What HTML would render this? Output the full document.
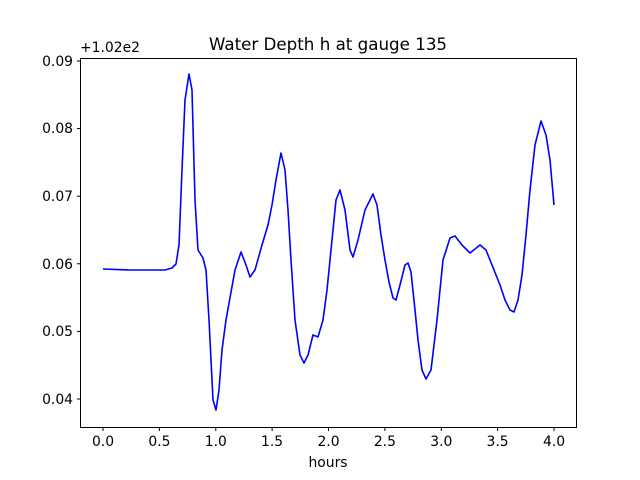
<!DOCTYPE html>
<html><head><meta charset="utf-8"><style>body{margin:0;background:#fff}svg{display:block}text{font-family:"DejaVu Sans","Liberation Sans",sans-serif;font-size:13.9px;fill:#000}</style></head>
<body>
<svg width="640" height="480" xmlns="http://www.w3.org/2000/svg">
<rect width="640" height="480" fill="#fff"/>
<text x="328" y="50" text-anchor="middle" style="font-size:16.7px">Water Depth h at gauge 135</text>
<text x="80" y="52">+1.02e2</text>
<rect x="80.5" y="58.5" width="496" height="369" fill="none" stroke="#000" stroke-width="1"/>
<g stroke="#000" stroke-width="1">
<line x1="103" y1="428" x2="103" y2="431"/><line x1="159.4" y1="428" x2="159.4" y2="431"/><line x1="215.8" y1="428" x2="215.8" y2="431"/><line x1="272.1" y1="428" x2="272.1" y2="431"/><line x1="328.5" y1="428" x2="328.5" y2="431"/><line x1="384.9" y1="428" x2="384.9" y2="431"/><line x1="441.3" y1="428" x2="441.3" y2="431"/><line x1="497.6" y1="428" x2="497.6" y2="431"/><line x1="554" y1="428" x2="554" y2="431"/>
<line x1="77" y1="399" x2="80" y2="399"/><line x1="77" y1="331.4" x2="80" y2="331.4"/><line x1="77" y1="263.8" x2="80" y2="263.8"/><line x1="77" y1="196.2" x2="80" y2="196.2"/><line x1="77" y1="128.6" x2="80" y2="128.6"/><line x1="77" y1="61" x2="80" y2="61"/>
</g>
<g text-anchor="middle">
<text x="103" y="446">0.0</text><text x="159.4" y="446">0.5</text><text x="215.8" y="446">1.0</text><text x="272.1" y="446">1.5</text><text x="328.5" y="446">2.0</text><text x="384.9" y="446">2.5</text><text x="441.3" y="446">3.0</text><text x="497.6" y="446">3.5</text><text x="554" y="446">4.0</text>
</g>
<g text-anchor="end">
<text x="73" y="404">0.04</text><text x="73" y="336">0.05</text><text x="73" y="269">0.06</text><text x="73" y="201">0.07</text><text x="73" y="133">0.08</text><text x="73" y="66">0.09</text>
</g>
<text x="328" y="467" text-anchor="middle">hours</text>
<polyline fill="none" stroke="#0000ff" stroke-width="1.6" stroke-linejoin="round" points="103,269 130,270 165,270 172,268 176,264 179,245 182,170 185,100 189,74 192,90 195,200 198,250 203,258 206,270 209,320 213,400 216,410 219,390 222,350 226,320 235,270 241,252 246,265 250,277 255,270 262,245 268,225 272,205 276,180 281,153 285,170 288,210 291,260 295,320 300,355 304,363 308,355 313,335 318,337 323,320 327,290 331,250 336,200 340,190 345,210 350,250 353,257 358,240 365,210 373,194 377,205 381,235 385,260 389,282 393,298 396,300 400,285 405,265 408,263 411,272 415,310 418,340 422,370 426,379 431,370 437,320 443,260 450,238 455,236 462,245 470,253 480,245 486,250 492,265 500,285 505,300 510,310 514,312 518,300 522,275 526,235 530,190 535,145 541,121 546,135 550,160 554,205"/>
</svg>
</body></html>
